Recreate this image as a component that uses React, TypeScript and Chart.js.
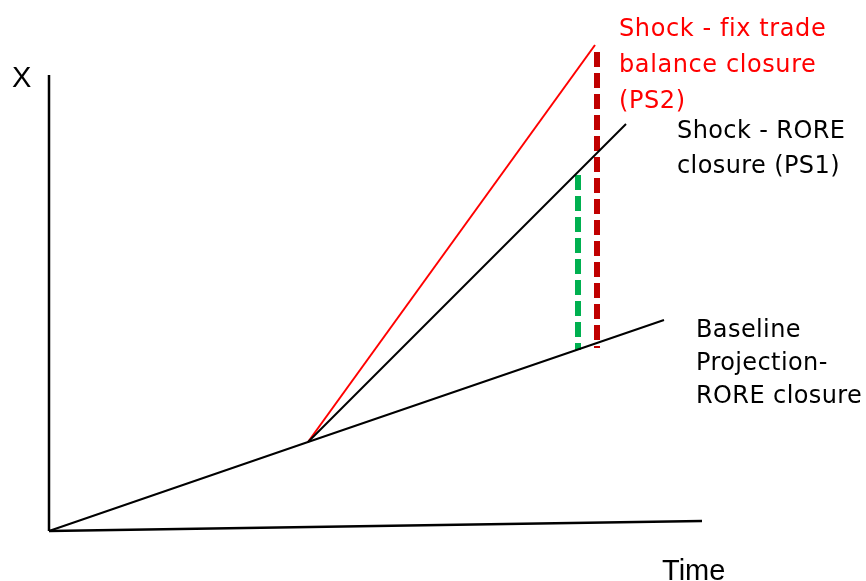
import React, { useEffect, useRef } from "react";
import { Chart, registerables } from "chart.js";

Chart.register(...registerables);

// Schematic values (time on x, X on y), origin at the axes corner
const yAxisLine = [
  { x: 0, y: 0 },
  { x: 0, y: 456 },
];
const xAxisLine = [
  { x: 0, y: 0 },
  { x: 653, y: 10 },
];
const baseline = [
  { x: 0, y: 0 },
  { x: 259, y: 89 },
  { x: 615, y: 211 },
];
const shockRore = [
  { x: 259, y: 89 },
  { x: 577, y: 407 },
];
const shockFixTrade = [
  { x: 259, y: 89 },
  { x: 546, y: 486 },
];
const gapPS1 = [
  { x: 529, y: 356 },
  { x: 529, y: 181 },
];
const gapPS2 = [
  { x: 548, y: 479 },
  { x: 548, y: 183 },
];

const redLabel = ["Shock - fix trade", "balance closure", "(PS2)"];
const roreLabel = ["Shock - RORE", "closure (PS1)"];
const baseLabel = ["Baseline", "Projection-", "RORE closure"];
const yTitle = "X";
const xTitle = "Time";

type TextBlock = {
  lines: string[];
  at: { x: number; y: number };
  font: string;
  spacing: string;
  color: string;
  lineHeight: number;
};

const labelFont = "24px 'DejaVu Sans'";
const titleFont = "29px 'Liberation Sans Narrow', 'Liberation Sans'";

const textBlocks: TextBlock[] = [
  { lines: redLabel, at: { x: 570, y: 495 }, font: labelFont, spacing: "0.6px", color: "#ff0000", lineHeight: 36 },
  { lines: roreLabel, at: { x: 628, y: 393 }, font: labelFont, spacing: "0.4px", color: "#000000", lineHeight: 35 },
  { lines: baseLabel, at: { x: 647, y: 194.5 }, font: labelFont, spacing: "0.4px", color: "#000000", lineHeight: 33 },
  { lines: [yTitle], at: { x: -37, y: 444 }, font: titleFont, spacing: "0px", color: "#000000", lineHeight: 30 },
  { lines: [xTitle], at: { x: 613, y: -49 }, font: titleFont, spacing: "0px", color: "#000000", lineHeight: 30 },
];

const textPlugin = {
  id: "schematicText",
  afterDraw(chart: any) {
    const ctx = chart.ctx;
    const xs = chart.scales.x;
    const ys = chart.scales.y;
    ctx.save();
    ctx.textAlign = "left";
    ctx.textBaseline = "alphabetic";
    for (const b of textBlocks) {
      ctx.font = b.font;
      if ("letterSpacing" in ctx) (ctx as any).letterSpacing = b.spacing;
      ctx.fillStyle = b.color;
      const px = xs.getPixelForValue(b.at.x);
      const py = ys.getPixelForValue(b.at.y);
      b.lines.forEach((line, i) => {
        ctx.fillText(line, px, py + i * b.lineHeight);
      });
    }
    ctx.restore();
  },
};

export default function App() {
  const ref = useRef<HTMLCanvasElement | null>(null);

  useEffect(() => {
    if (!ref.current) return;
    const line = (data: any[], color: string, width: number, dash: number[] = []) => ({
      data,
      showLine: true,
      borderColor: color,
      backgroundColor: color,
      borderWidth: width,
      borderDash: dash,
      pointRadius: 0,
      pointHoverRadius: 0,
      fill: false,
      tension: 0,
      clip: false as any,
    });
    const chart = new Chart(ref.current, {
      type: "scatter",
      data: {
        datasets: [
          line(yAxisLine, "#000000", 2.5),
          line(xAxisLine, "#000000", 2.5),
          line(baseline, "#000000", 2),
          line(shockRore, "#000000", 2),
          line(shockFixTrade, "#ff0000", 2),
          line(gapPS1, "#00b050", 6, [15, 6]),
          line(gapPS2, "#c00000", 6, [15, 6]),
        ],
      },
      options: {
        animation: false,
        responsive: false,
        events: [],
        layout: { padding: 0 },
        plugins: {
          legend: { display: false },
          tooltip: { enabled: false },
          title: { display: false },
        },
        scales: {
          x: { type: "linear", min: -49, max: 817, display: false },
          y: { type: "linear", min: -50, max: 531, display: false },
        },
      },
      plugins: [textPlugin],
    });
    return () => chart.destroy();
  }, []);

  return (
    <div style={{ position: "fixed", left: 0, top: 0, width: 866, height: 581, background: "#ffffff" }}>
      <canvas ref={ref} width={866} height={581} style={{ width: 866, height: 581, display: "block" }} />
    </div>
  );
}
